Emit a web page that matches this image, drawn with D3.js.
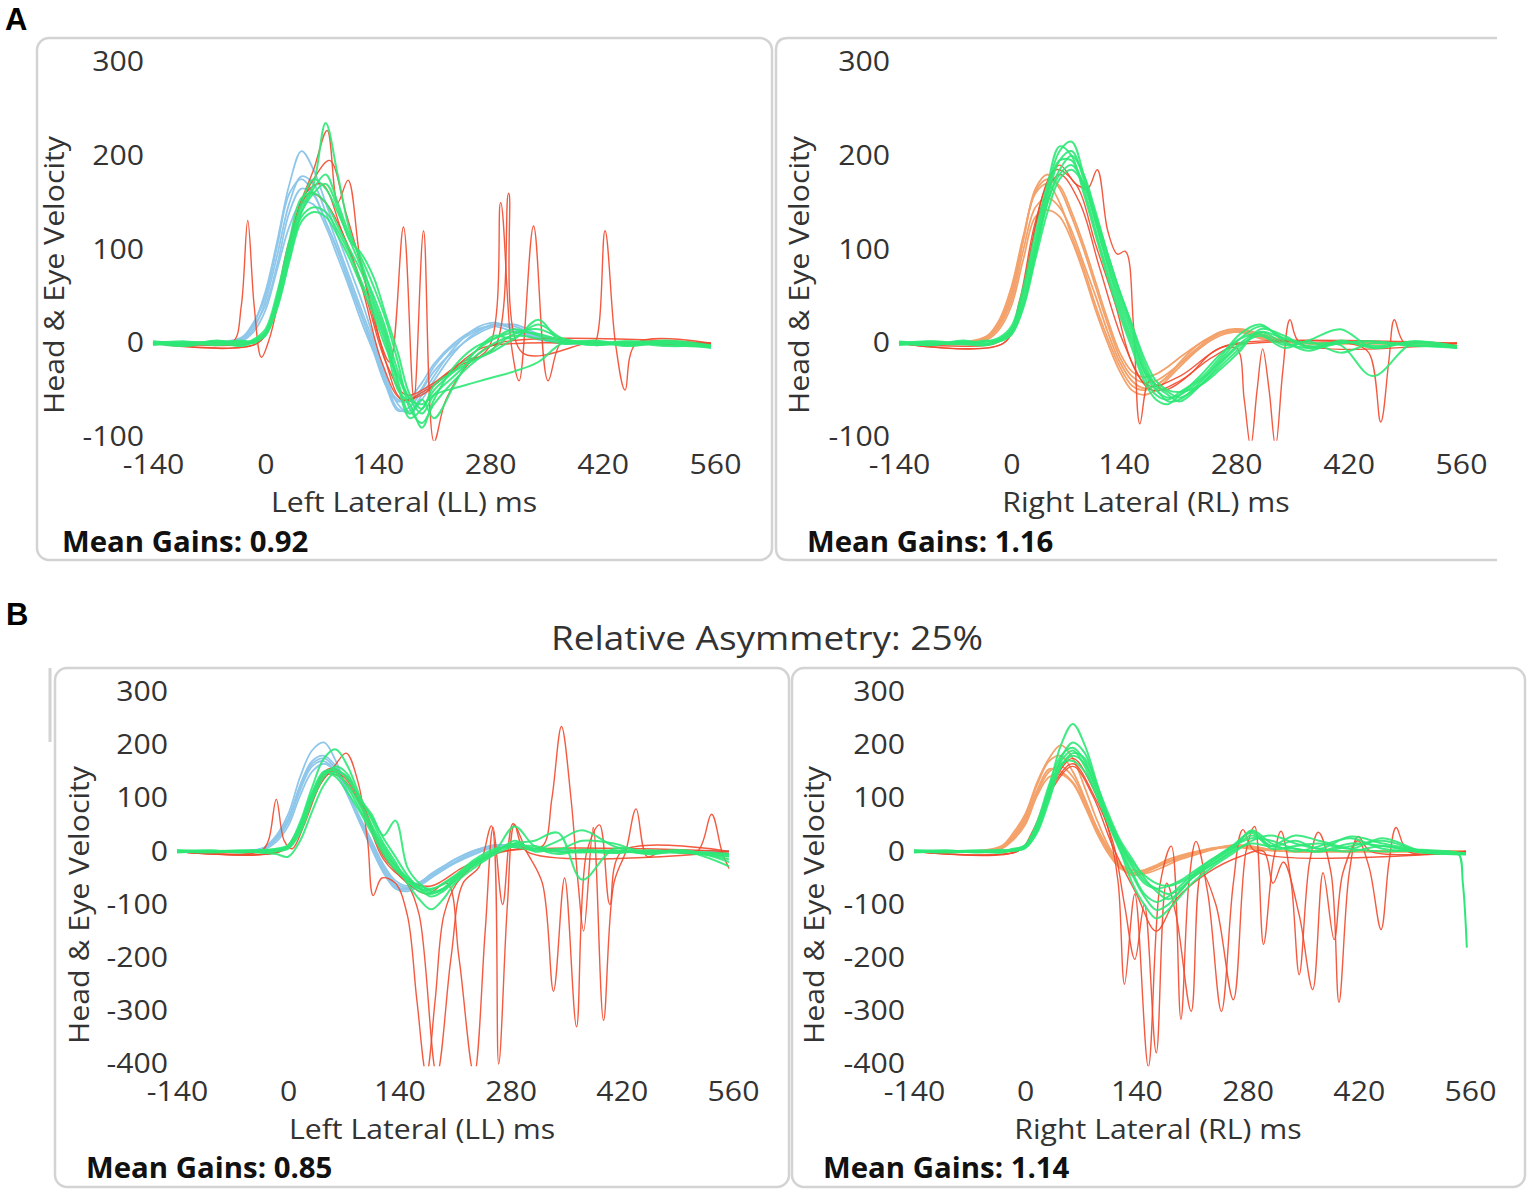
<!DOCTYPE html>
<html>
<head>
<meta charset="utf-8">
<script src="https://cdn.jsdelivr.net/npm/d3@7"></script>
<style>
	body { margin: 0; background: #fff; }
	text { font-family: "Open Sans", "Noto Sans", sans-serif; }
</style>
</head>
<body>
<svg id="fig" width="1535" height="1197"></svg>
<script>
// temps commun (ms) pour les traces tête / oeil
const T = [-140,-100,-60,-30,-15,0,15,30,45,60,75,90,105,120,135,150,165,180,195,210,235,260,285,310,340,370,410,450,500,555];
const xTicks = [-140, 0, 140, 280, 420, 560];
const yTicksA = [-100, 0, 100, 200, 300];
const yTicksB = [-400, -300, -200, -100, 0, 100, 200, 300];

// ---- A, gauche (LL) ----
const headAL = [
	[0,0,0,5,20,55,110,170,205,185,150,115,80,45,5,-35,-65,-75,-60,-40,-10,10,20,18,8,2,0,0,0,0],
	[0,0,0,3,15,45,95,150,178,170,140,105,70,35,0,-40,-70,-72,-55,-35,-5,15,22,15,5,0,0,0,0,0],
	[0,0,1,6,22,50,105,160,175,160,130,100,65,30,-5,-45,-72,-68,-50,-30,-8,8,18,20,10,3,0,0,0,0],
	[0,0,0,4,18,40,85,140,165,158,130,98,62,28,-8,-42,-60,-62,-48,-25,-2,12,20,15,6,1,0,0,0,0],
	[0,0,0,2,12,35,80,125,150,148,125,92,58,22,-10,-45,-62,-58,-42,-22,0,14,18,12,4,0,0,0,0,0]
];
const eyeAL = [
	[0,-3,2,-2,3,12,50,105,150,175,165,140,110,80,50,15,-30,-60,-75,-55,-35,-15,0,8,5,0,2,-3,1,-3],
	[2,0,-2,1,2,8,40,90,140,165,180,150,115,90,60,25,-20,-70,-85,-65,-40,-20,-5,10,15,5,0,2,-2,-4],
	[-2,1,0,3,0,10,45,100,145,170,235,180,120,85,45,10,-40,-75,-60,-80,-45,-10,5,15,8,2,-2,0,3,-2],
	[1,-2,3,-1,4,15,55,110,155,160,150,125,100,75,40,5,-45,-80,-70,-50,-30,-10,8,5,25,0,3,-2,0,-5],
	[0,2,-1,0,2,10,42,95,135,145,140,120,95,65,35,0,-50,-65,-90,-60,-25,-5,5,12,10,3,0,1,-3,-2],
	[-1,0,2,2,3,12,48,98,140,160,170,145,110,95,70,30,-10,-55,-70,-45,-30,-18,-8,5,20,5,-2,2,0,-4],
	[2,-1,0,-3,1,9,38,88,130,140,135,115,90,60,30,-5,-35,-60,-65,-55,-48,-42,-36,-30,-20,0,2,-1,2,-3]
];
const redAL = [
	[[-140,0],[-70,1],[-40,2],[-30,40],[-22,131],[-14,40],[-5,-15],[5,5],[20,60],[40,140],[60,185],[77,227],[90,150],[103,174],[118,90],[135,30],[150,-20],[170,-60],[195,-55],[230,-30],[270,-5],[320,0],[400,0],[555,-2]],
	[[-140,0],[-20,0],[0,10],[20,70],[40,140],[60,175],[80,195],[100,140],[120,80],[140,10],[155,-20],[172,124],[185,-60],[197,120],[210,-105],[225,-60],[255,-20],[290,0],[555,0]],
	[[-140,0],[-10,0],[10,30],[30,100],[50,160],[70,170],[95,120],[120,60],[145,-20],[170,-60],[200,-50],[240,-25],[278,-5],[293,150],[306,0],[316,-40],[334,125],[352,-40],[368,0],[390,0],[555,0]],
	[[-140,0],[-10,0],[10,35],[30,110],[55,160],[75,150],[100,110],[125,50],[150,-20],[175,-55],[205,-45],[245,-20],[285,-5],[303,160],[320,-10],[400,0],[410,0],[423,120],[436,0],[448,-50],[462,0],[555,0]]
];

// ---- A, droite (RL) ----
const headAR = [
	[0,0,0,6,20,50,110,165,180,165,135,100,60,20,-15,-35,-42,-40,-32,-22,-5,10,12,8,3,0,0,0,0,0],
	[0,0,1,8,25,60,115,160,170,150,115,80,40,5,-25,-45,-50,-45,-35,-22,-3,12,15,8,2,0,0,0,0,0],
	[0,0,0,5,18,45,100,145,155,145,120,85,50,12,-20,-40,-48,-45,-35,-20,0,10,14,6,2,0,0,0,0,0],
	[0,0,0,4,15,40,90,135,142,135,110,75,35,0,-30,-50,-55,-50,-38,-25,-5,8,12,5,1,0,0,0,0,0],
	[0,0,0,7,22,55,112,162,175,168,140,105,65,25,-10,-30,-36,-33,-25,-15,0,12,15,10,3,0,0,0,0,0]
];
const eyeAR = [
	[0,-2,2,-1,3,12,45,100,155,195,205,175,130,85,45,10,-30,-50,-58,-55,-40,-20,0,12,0,-5,2,-3,0,-5],
	[2,0,-1,2,5,15,55,110,165,205,215,180,135,90,50,15,-25,-48,-62,-60,-42,-18,5,18,5,-3,0,2,-2,-4],
	[-1,2,0,3,2,10,40,95,150,185,200,180,140,95,55,20,-20,-45,-55,-62,-45,-22,-2,8,-5,2,-10,0,-3,-3],
	[1,-2,3,0,4,14,50,105,160,195,195,165,120,75,35,0,-35,-55,-60,-52,-38,-15,10,20,2,-8,3,-5,2,-5],
	[0,2,-1,-2,3,11,42,98,150,180,190,170,128,82,40,5,-28,-45,-52,-58,-45,-25,-5,12,5,0,-2,-35,0,-4],
	[-2,0,1,2,6,18,60,118,170,210,200,160,115,70,30,-5,-40,-60,-65,-55,-35,-12,5,10,-2,3,15,-5,2,-3],
	[1,-1,0,-2,2,9,38,90,140,175,185,170,135,95,55,20,-15,-40,-50,-52,-45,-28,-8,15,8,-5,0,2,-2,-5]
];
const redAR = [
	[[-140,0],[-20,0],[0,15],[20,80],[40,160],[60,190],[80,170],[95,165],[107,185],[120,120],[132,95],[142,98],[152,20],[160,-86],[172,-40],[190,-50],[220,-35],[250,-10],[280,0],[555,0]],
	[[-140,0],[-10,0],[10,45],[30,130],[55,185],[80,170],[105,105],[130,40],[150,-20],[175,-50],[210,-40],[250,-15],[280,-5],[290,-60],[298,-110],[306,-50],[313,-6],[321,-50],[329,-110],[338,-30],[347,25],[360,0],[555,0]],
	[[-140,0],[-10,0],[10,40],[35,140],[60,180],[85,150],[110,80],[140,0],[170,-45],[210,-35],[260,-5],[300,0],[420,0],[445,-10],[460,-84],[470,-20],[477,25],[490,0],[555,0]]
];

// ---- B, gauche (LL) ----
const headBL = [
	[0,0,0,8,30,70,140,190,205,170,110,55,5,-40,-70,-75,-65,-50,-35,-22,-5,8,10,5,0,0,0,0,0,0],
	[0,0,0,5,22,55,115,160,170,150,105,55,10,-35,-65,-70,-60,-45,-32,-20,-3,10,12,5,1,0,0,0,0,0],
	[0,0,1,6,25,60,120,165,175,155,110,60,15,-30,-60,-68,-62,-48,-35,-20,0,12,10,4,0,0,0,0,0,0],
	[0,0,0,4,18,48,105,150,165,150,110,65,20,-25,-55,-65,-58,-45,-30,-15,2,12,10,3,0,0,0,0,0,0],
	[0,0,0,7,28,62,125,170,180,160,112,58,8,-38,-68,-72,-60,-42,-28,-15,2,10,8,2,0,0,0,0,0,0]
];
const eyeBL = [
	[0,2,-2,1,2,8,45,105,150,150,120,80,40,0,-30,-55,-75,-80,-70,-50,-20,0,15,5,0,2,-2,0,-3,-10],
	[2,-1,1,-2,0,5,35,95,140,160,145,95,50,10,-25,-50,-70,-85,-75,-55,-25,-5,10,10,0,-2,2,-3,0,-5],
	[-1,0,2,3,5,12,55,120,175,192,160,105,60,15,-20,-60,-90,-109,-90,-60,-30,-5,20,0,5,0,-3,2,-2,-8],
	[1,-2,0,-3,-5,-10,20,75,125,150,140,100,70,30,58,-30,-60,-75,-70,-50,-25,0,47,10,-5,3,0,-2,2,-20],
	[0,1,-1,2,3,10,50,110,150,140,110,75,35,-5,-35,-55,-70,-72,-60,-45,-15,5,8,3,20,40,10,-5,0,-28],
	[-2,1,0,-1,2,6,40,100,145,155,135,100,65,25,-10,-45,-68,-78,-72,-55,-22,0,15,20,35,-53,5,0,-2,-5],
	[2,0,-1,1,4,9,48,108,148,145,125,88,45,5,-28,-50,-65,-70,-62,-48,-18,2,12,5,3,20,15,-3,0,-15]
];
const redBL = [
	[[-140,0],[-35,0],[-25,20],[-15,98],[-5,20],[5,5],[20,50],[40,125],[58,160],[73,185],[88,130],[100,20],[107,-83],[118,-50],[135,-60],[150,-120],[162,-280],[174,-420],[185,-280],[196,-120],[212,-60],[240,-20],[270,0],[555,0]],
	[[-140,0],[-10,0],[10,30],[30,100],[50,150],[70,140],[95,80],[120,-10],[150,-60],[165,-120],[187,-420],[205,-200],[220,-60],[240,-30],[256,48],[265,-400],[276,-100],[285,50],[300,0],[555,0]],
	[[-140,0],[-10,0],[10,35],[30,105],[50,155],[70,145],[95,85],[120,-5],[150,-60],[175,-80],[200,-60],[215,-200],[234,-420],[248,-150],[258,45],[270,-100],[283,52],[300,0],[320,-60],[334,-263],[348,-50],[363,-330],[376,0],[392,50],[405,-100],[420,0],[555,0]],
	[[-140,0],[-10,0],[10,30],[30,95],[50,145],[70,135],[95,75],[120,-15],[150,-55],[180,-65],[220,-30],[260,-5],[290,5],[320,10],[332,100],[344,235],[356,100],[365,-60],[372,-150],[384,45],[397,-318],[410,-60],[425,0],[438,80],[452,-10],[470,0],[515,0],[533,70],[546,0],[555,-32]]
];

// ---- B, droite (RL) ----
const headBR = [
	[0,0,0,8,30,65,125,170,180,150,100,45,0,-30,-40,-38,-30,-20,-12,-5,5,10,8,3,0,0,0,0,0,0],
	[0,0,1,10,35,70,130,175,200,175,120,60,10,-25,-42,-42,-35,-25,-15,-8,3,12,10,3,0,0,0,0,0,0],
	[0,0,0,6,25,55,110,150,160,140,95,45,5,-25,-35,-35,-28,-18,-10,-3,6,10,6,2,0,0,0,0,0,0],
	[0,0,0,7,28,60,115,155,150,130,90,40,0,-30,-45,-40,-30,-20,-12,-5,4,9,6,2,0,0,0,0,0,0],
	[0,0,0,5,22,50,105,140,145,128,85,35,-5,-32,-40,-35,-26,-15,-8,-2,5,8,5,2,0,0,0,0,0,-5]
];
const eyeBR = [
	[0,2,-2,1,3,10,50,120,200,240,200,130,60,10,-30,-60,-70,-65,-55,-40,-15,5,30,10,5,0,10,20,0,-5],
	[2,-1,1,-2,2,8,40,105,175,205,185,125,65,15,-25,-55,-70,-80,-70,-50,-25,0,40,15,0,10,25,5,0,-3],
	[-1,0,2,0,4,12,55,125,180,195,170,115,55,0,-60,-100,-126,-110,-85,-60,-30,-5,20,30,15,5,0,10,-2,-4],
	[1,-2,0,2,1,6,35,95,160,180,165,115,60,15,-20,-45,-60,-65,-58,-45,-20,5,38,10,20,5,28,15,2,-4],
	[0,1,-1,-2,3,9,45,110,165,170,150,105,55,5,-40,-80,-95,-85,-65,-45,-15,10,35,5,10,15,5,25,0,-5],
	[-2,0,1,3,2,7,38,100,160,185,175,125,70,20,-15,-50,-75,-90,-75,-50,-20,8,25,20,5,0,15,10,-2,-6],
	[2,0,-1,0,5,11,50,115,170,190,160,105,50,0,-45,-85,-110,-100,-75,-50,-25,0,15,10,30,20,5,0,3,-4]
];
const tailBR = [[520,-2],[545,-4],[551,-60],[556,-181]];
const redBR = [
	[[-140,0],[-10,0],[10,40],[35,130],[60,175],[85,120],[105,40],[117,-58],[125,-250],[138,-80],[155,-405],[170,-60],[184,10],[196,-316],[206,-60],[215,19],[230,-80],[247,-301],[262,-60],[274,41],[290,0],[555,0]],
	[[-140,0],[-10,0],[10,35],[35,125],[60,165],[85,110],[110,20],[125,-100],[138,-203],[150,-100],[165,-379],[178,-60],[190,-120],[209,-301],[222,-40],[240,-100],[262,-279],[278,0],[289,47],[300,-175],[312,-20],[322,38],[335,-60],[345,-232],[358,-20],[369,36],[385,-40],[395,-284],[408,-40],[419,28],[435,0],[555,0]],
	[[-140,0],[-10,0],[10,30],[35,120],[60,160],[85,105],[110,10],[140,-80],[165,-150],[190,-90],[230,-40],[270,-10],[300,0],[312,-60],[325,-20],[345,-120],[362,-260],[375,-40],[389,-166],[400,-40],[419,20],[433,-30],[448,-147],[458,-20],[467,45],[482,0],[555,0]]
];

const BLEU = "#8fc7ea", ORANGE = "#f4a26b", VERT = "#2de877", ROUGE = "#f2482b";
const ETIRE = "scale(1.12,1)"; // police du logiciel plus large qu'Open Sans

const panneaux = [
	{x0:153, x1:715, yTop:62, yBot:437, yMin:-100, yTicks:yTicksA, head:headAL, headCol:BLEU, eye:eyeAL, red:redAL,
	 xTitle:"Left Lateral (LL) ms", cx:404, yTx:55, gain:"Mean Gains: 0.92", gx:62, gy:542},
	{x0:899, x1:1461, yTop:62, yBot:437, yMin:-100, yTicks:yTicksA, head:headAR, headCol:ORANGE, eye:eyeAR, red:redAR,
	 xTitle:"Right Lateral (RL) ms", cx:1146, yTx:800, gain:"Mean Gains: 1.16", gx:807, gy:542},
	{x0:177, x1:733, yTop:692, yBot:1064, yMin:-400, yTicks:yTicksB, head:headBL, headCol:BLEU, eye:eyeBL, red:redBL,
	 xTitle:"Left Lateral (LL) ms", cx:422, yTx:80, gain:"Mean Gains: 0.85", gx:86, gy:1168},
	{x0:914, x1:1470, yTop:692, yBot:1064, yMin:-400, yTicks:yTicksB, head:headBR, headCol:ORANGE, eye:eyeBR, red:redBR, tail:tailBR,
	 xTitle:"Right Lateral (RL) ms", cx:1158, yTx:815, gain:"Mean Gains: 1.14", gx:823, gy:1168}
];

let svg = d3.select("#fig");
svg.append("rect").attr("width", 1535).attr("height", 1197).attr("fill", "#fff");

// cadres
let cadres = svg.append("g").attr("fill", "none").attr("stroke", "#d3d3d3").attr("stroke-width", 2.5);
cadres.append("rect").attr("x", 37).attr("y", 38).attr("width", 735).attr("height", 522).attr("rx", 12);
cadres.append("path").attr("d", "M1497,38 H788 Q776,38 776,50 V548 Q776,560 788,560 H1497");
cadres.append("rect").attr("x", 55).attr("y", 668).attr("width", 734).attr("height", 519).attr("rx", 12);
cadres.append("rect").attr("x", 792).attr("y", 668).attr("width", 733).attr("height", 519).attr("rx", 12);
cadres.append("line").attr("x1", 50).attr("x2", 50).attr("y1", 668).attr("y2", 742).attr("stroke-width", 3);

svg.append("text").attr("x", 5).attr("y", 30).text("A")
	.style("font-family", "Liberation Sans, Arial, sans-serif").style("font-weight", "bold").style("font-size", "31px");
svg.append("text").attr("x", 6).attr("y", 625).text("B")
	.style("font-family", "Liberation Sans, Arial, sans-serif").style("font-weight", "bold").style("font-size", "31px");
svg.append("text").attr("transform", `translate(767,638) ${ETIRE}`).attr("dy", "0.35em").attr("text-anchor", "middle")
	.attr("fill", "#333").style("font-size", "33px").text("Relative Asymmetry: 25%");

panneaux.forEach((p, n) => {
	let x = d3.scaleLinear().domain([-140, 560]).range([p.x0, p.x1]);
	let y = d3.scaleLinear().domain([p.yMin, 300]).range([p.yBot, p.yTop]);
	let g = svg.append("g");

	g.append("g")
		.attr("transform", `translate(${p.x0},0)`)
		.call(d3.axisLeft(y).tickValues(p.yTicks).tickFormat(d => String(d)).tickSize(0).tickPadding(8))
		.call(a => a.select(".domain").remove())
		.call(a => a.selectAll("text").attr("transform", ETIRE).attr("fill", "#333").style("font-size", "27px").attr("font-family", null));
	g.append("g")
		.attr("transform", `translate(0,${p.yBot})`)
		.call(d3.axisBottom(x).tickValues(xTicks).tickFormat(d => String(d)).tickSize(0))
		.call(a => a.select(".domain").remove())
		.call(a => a.selectAll("text").attr("y", 28).attr("dy", "0.35em").attr("transform", ETIRE)
			.attr("fill", "#333").style("font-size", "27px").attr("font-family", null));
	g.append("text").attr("transform", `translate(${p.cx},${p.yBot + 66}) ${ETIRE}`).attr("dy", "0.35em").attr("text-anchor", "middle")
		.attr("fill", "#333").style("font-size", "27px").text(p.xTitle);
	let ymid = n < 2 ? 275 : 905;
	g.append("text").attr("transform", `translate(${p.yTx},${ymid}) rotate(-90) ${ETIRE}`).attr("dy", "0.35em").attr("text-anchor", "middle")
		.attr("fill", "#333").style("font-size", "27px").text("Head & Eye Velocity");
	g.append("text").attr("transform", `translate(${p.gx},${p.gy}) scale(1.05,1)`).attr("dy", "0.35em")
		.attr("fill", "#111").style("font-size", "28px").style("font-weight", "bold").text(p.gain);

	let clipId = "clip" + n;
	svg.append("clipPath").attr("id", clipId).append("rect")
		.attr("x", p.x0 - 5).attr("y", p.yTop - 10)
		.attr("width", p.x1 - p.x0 + 15).attr("height", y(p.yMin - 4) - p.yTop + 10);

	let line = d3.line().x(d => x(d[0])).y(d => y(d[1])).curve(d3.curveCatmullRom.alpha(0.5));
	let traces = g.append("g").attr("clip-path", `url(#${clipId})`).attr("fill", "none");
	let grille = v => v.map((val, k) => [T[k], val]);

	traces.append("g").selectAll("path").data(p.head).join("path")
		.attr("d", d => line(grille(d))).attr("stroke", p.headCol).attr("stroke-width", 1.8);
	traces.append("g").selectAll("path").data(p.red).join("path")
		.attr("d", d => line(d)).attr("stroke", ROUGE).attr("stroke-width", 1.4).attr("stroke-opacity", 0.9);
	traces.append("g").selectAll("path").data(p.eye).join("path")
		.attr("d", d => line(grille(d))).attr("stroke", VERT).attr("stroke-width", 2).attr("stroke-opacity", 0.9);
	if (p.tail)
		traces.append("path").attr("d", line(p.tail)).attr("stroke", VERT).attr("stroke-width", 2);
});
</script>
</body>
</html>
